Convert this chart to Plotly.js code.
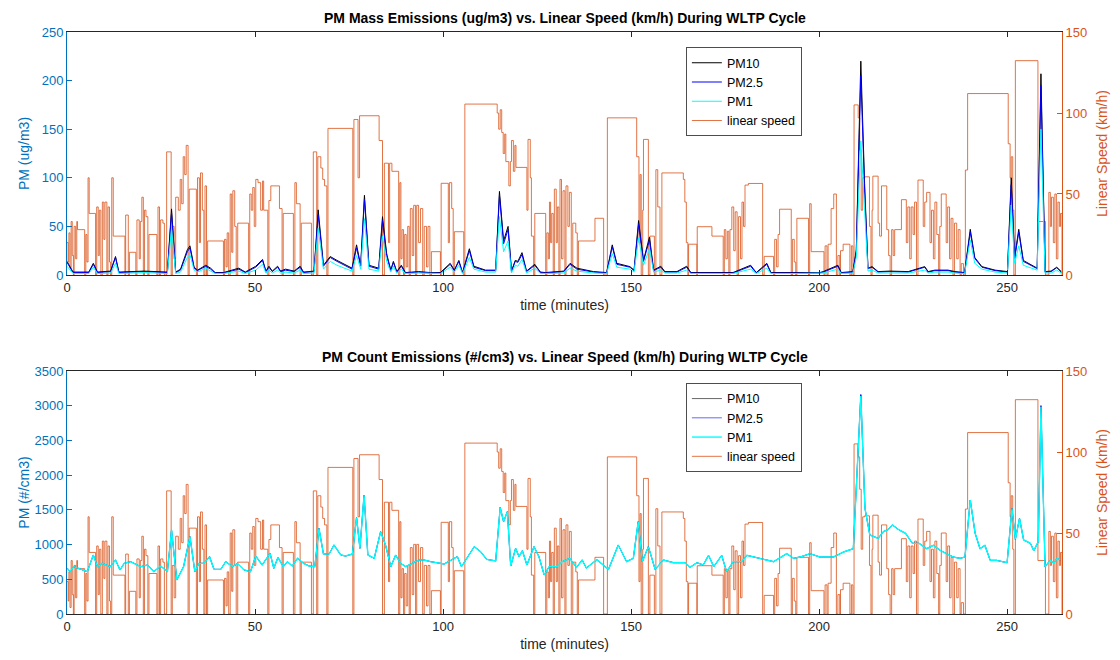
<!DOCTYPE html>
<html>
<head>
<meta charset="utf-8">
<script src="https://cdn.plot.ly/plotly-3.0.1.min.js"></script>
<style>html,body{margin:0;padding:0;background:#fff;}#chart{width:1120px;height:660px;}</style>
</head>
<body>
<div id="chart"></div>
<script>
// ---- Linear speed (km/h), step signal: time (min) and value ----
const speedTime = [0,0.3,0.5,0.8,1.1,1.4,1.7,1.9,2.3,2.6,2.8,4.7,5.0,5.3,5.6,5.9,7.6,7.9,8.3,8.6,9.0,9.4,9.8,10.1,10.6,10.9,11.3,11.6,11.9,12.3,15.4,15.6,16.3,16.6,18.3,18.6,19.2,19.5,19.9,20.3,20.6,21.0,21.5,21.8,23.9,24.2,24.6,24.9,25.5,25.9,26.5,27.7,28.0,28.5,28.9,29.6,30.1,30.5,30.9,31.3,31.7,32.2,32.5,34.4,34.7,35.2,35.5,36.0,36.4,36.7,37.1,37.4,41.6,41.9,42.3,42.6,43.0,43.4,43.8,44.1,44.6,45.0,45.4,48.3,48.6,49.0,49.4,49.8,50.2,50.8,51.5,52.0,52.3,53.4,53.7,54.2,56.5,57.2,57.5,60.2,60.6,61.0,62.0,62.3,65.0,65.5,66.4,66.7,67.5,68.0,68.5,69.1,69.4,76.0,76.3,77.4,77.8,83.0,83.9,84.4,85.5,85.8,86.4,88.2,88.5,88.8,89.1,89.5,89.8,90.2,90.6,91.0,91.3,91.8,92.2,92.7,93.0,93.5,94.0,94.6,95.0,95.6,96.0,96.5,96.9,99.3,99.5,101.4,101.7,102.3,102.7,103.0,105.5,105.8,114.4,114.8,115.2,115.6,116.0,116.4,116.7,117.5,117.9,118.2,118.7,119.1,119.4,122.3,122.6,123.2,123.5,124.1,124.4,127.3,127.6,128.0,128.3,128.6,128.9,129.3,129.6,130.1,130.4,130.8,131.1,131.5,131.9,132.4,132.7,133.2,133.6,134.1,134.5,135.3,135.7,136.0,140.4,142.7,143.7,151.5,152.1,152.4,152.7,153.1,153.3,154.6,155.0,156.2,156.6,157.1,157.7,158.2,163.9,164.3,164.7,165.1,165.3,167.5,167.6,171.5,174.5,174.8,175.2,175.6,176.0,176.3,176.8,177.3,177.7,178.2,178.6,179.1,179.5,179.9,180.3,181.2,185.0,185.4,187.9,188.2,188.7,189.1,189.5,192.6,192.9,193.4,193.8,194.1,197.2,197.5,197.9,201.3,201.6,202.1,202.4,203.2,203.9,204.6,205.0,205.5,205.7,206.4,208.2,208.6,209.0,209.3,210.4,210.8,211.2,211.6,212.1,213.4,213.8,214.1,214.3,215.7,216.1,216.6,218.0,218.5,218.9,219.3,219.7,220.1,221.9,223.2,223.6,224.1,224.5,225.0,225.4,225.9,226.3,227.7,228.1,228.6,229.5,229.9,230.4,230.8,231.3,231.8,232.1,232.5,233.8,234.2,234.7,235.1,235.6,236.0,236.6,237.0,237.5,237.8,238.4,238.9,239.5,250.3,250.8,251.1,251.5,251.8,252.2,258.2,260.2,261.1,261.5,261.8,262.3,262.7,263.1,263.5,263.9,264.2,264.6];
const speedValue = [20,8,26,4,33,12,0,30,10,33,28,0,25,8,60,38,0,42,12,40,0,45,22,45,0,42,8,0,60,24,0,37,0,14,0,34,10,33,48,0,40,36,0,25,0,42,0,34,32,0,76,0,30,10,48,40,59,44,73,62,80,0,53,0,60,20,63,40,0,55,0,21,0,22,5,26,0,50,14,52,30,0,32,0,50,40,54,30,59,57,40,58,40,0,46,55,41,0,38,0,57,44,0,32,0,76,0,73,66,59,55,0,90.5,0,96,60,98.3,83,0,69,20,69,64,0,57,10,28,0,25,5,30,0,41,12,43,0,43,20,41,0,30,5,30,0,14.4,0,56.6,20,57,41,0,26.7,0,105.5,100,90,102,88,75,87,70,55,70,83,64,80,66.4,40,83.7,60,24,0,38,0,26,10,45,20,38,0,53,20,42,0,59,10,52,0,55,30,51,0,32,26,0,21,35,0,97,73,20,62,0,40,83.7,0,24,0,65,42,0,63,59,45,20,0,19,0,29.8,24,0,28,10,27,0,28,42,15,39,0,36,10,45,30,55.5,56.5,0,11.5,0,22,5,25,40.6,0,22,8,0,35,0,44,14.4,0,18,0,19,41,50,0,12,0,15,19,0,18,0,105,97,77,40,60,60.6,30,0,40,61,32,24,55,28,12,0,28,12,28,46.5,20,42,10,42,25,45,0,58.6,30,45,51,20,40,10,45,25,0,30,50,20,42,10,35,0,32,10,28,0,7,0,64.8,112,81,60,73,40,0,132.3,33,0,51,30,48,20,50,10,45,30,38,0];

// ---- PM mass concentrations (ug/m3) ----
const massTime = [0,1.6,5.8,7.0,8.1,11.6,12.9,13.8,20.5,26.7,27.8,28.9,30.2,32.0,32.7,33.8,34.7,36.9,38.2,39.4,41.6,45.7,47.4,50.2,52.0,52.9,53.7,54.6,56.0,56.8,58.1,60.4,62.0,62.9,65.7,66.8,68.2,70.0,71.8,75.8,77.0,78.1,79.1,80.3,82.9,83.9,85.0,86.1,86.8,87.7,88.9,90.0,93.5,96.6,99.3,101.9,103.0,104.2,105.2,107.0,108.2,111.3,114.0,115.0,116.1,117.3,118.2,119.2,119.9,121.0,122.2,124.4,125.9,127.2,132.1,133.8,135.6,140.0,143.5,145.0,146.2,149.7,150.8,152.0,153.3,154.9,156.0,157.9,159.0,162.2,164.8,165.9,171.0,177.1,181.8,183.3,186.1,187.2,193.3,197.1,200.2,201.1,205.0,205.9,209.0,209.9,211.1,212.1,213.0,214.1,215.7,218.8,223.7,228.1,229.0,230.8,234.3,236.1,238.7,240.2,241.4,243.3,246.8,250.1,251.1,252.0,253.1,254.3,258.0,259.0,260.1,261.7,263.2,264.4];
const pm10Mass = [14,3,3,12,3,4,19,3,4,3,68,3,6,26,30,8,5,10,7,2.5,2.5,7,3,9,16,4,9,4,9,4,6,4,9,3,4,67,10,19,15,7,31,10,82,10,7,60,22,5,14,3.5,10,2.5,3.5,2.5,2.5,12,5,15,2.5,27,9,5,5,86,35,50,4,15,14,23,4,11,3,2.5,4,12,7,3.5,2.5,31,12,8.6,5,56,15,39,5,9,3.5,3.5,9,2.5,2.5,2.5,10,2.5,12,2.5,2.5,2.5,2.5,3.5,10,2.5,3.5,26,220,94,7,8.6,3.5,4,3.5,8.6,3.5,5,5,3.5,2.5,47,18,8.6,5,3.5,100,18,47,15,7,207,3.5,4,8,3.5];
const pm25Mass = [13,2.5,2.5,11,2.5,3.5,18,2.5,3.5,2.5,64,2.5,5,24,28,7,4.5,9,6,2,2,6,2.5,8,15,3.5,8,3.5,8,3.5,5,3.5,8,2.5,3.5,62,9,18,14,6,28,9,78,9,6,56,20,4.5,13,3,9,2,3,2,2,11,4.5,14,2,25,8,4.5,4.5,82,32,47,3.5,14,13,21,3.5,10,2.5,2,3.5,11,6,3,2,29,11,8,4.5,52,14,36,4.5,8,3,3,8,2,2,2,9,2,11,2,2,2,2,3,9,2,3,24,205,88,6.5,8,3,3.5,3,8,3,4.5,4.5,3,2,44,17,8,4.5,3,93,17,44,14,6.5,195,3,3.5,7.5,3];
const pm1Mass = [9,1.5,1.5,8,1.5,2,12,1.5,2.5,1.5,48,1.5,3,18,21,5,3,7,4,1.5,1.5,4,1.5,5,11,2,5,2,5,2,3,2,5,1.5,2,48,6,14,10,4,20,6,58,6,4,40,14,3,9,2,6,1.5,2,1.5,1.5,8,3,10,1.5,18,6,3,3,60,24,35,2,10,9,16,2,7,1.5,1.5,2,7,4,2,1.5,22,8,6,3,38,10,27,3,5,2,2,5,1.5,1.5,1.5,6,1.5,7,1.5,1.5,1.5,1.5,2,6,1.5,2,18,138,60,4,5,2,2,2,5,2,3,3,2,1.5,36,12,6,3,2,72,12,30,10,5,150,2,2,5,2];

// ---- PM number concentrations (#/cm3) ----
const countTime = [0.1,0.8,1.8,5.4,7.0,8.1,9.4,11.5,12.9,14.1,15.2,16.9,19.6,21.4,23.1,24.9,26.7,27.8,29.2,31.0,32.7,34.0,35.1,36.4,37.9,39.1,40.9,42.2,44.0,45.3,47.1,48.8,50.2,51.9,54.0,55.0,56.1,57.5,58.6,59.9,61.3,62.9,64.4,65.9,67.0,68.2,69.7,71.0,72.8,74.1,75.9,77.0,77.9,79.0,80.0,81.7,83.4,84.7,86.1,87.4,88.7,90.1,91.8,93.6,94.9,96.7,100.3,102.1,103.8,104.9,108.3,110.0,111.6,114.0,115.2,116.1,117.1,118.0,119.3,120.2,121.1,122.3,124.2,125.5,126.9,128.2,130.4,131.7,133.7,135.5,137.0,138.1,140.9,144.0,146.6,148.8,150.6,151.9,153.0,154.6,156.4,158.6,161.3,164.4,165.7,167.5,169.2,170.6,172.0,174.1,175.4,177.2,179.4,180.8,184.3,187.9,191.4,193.2,195.0,197.6,200.2,203.8,206.5,209.1,211.1,212.2,213.5,215.7,217.1,218.4,219.5,221.3,223.0,224.8,226.6,228.6,230.4,232.2,233.9,235.7,237.5,238.8,240.2,241.5,242.8,244.1,245.5,247.2,250.0,251.3,252.2,253.3,254.4,256.2,257.1,258.3,259.0,260.1,261.5,262.4,263.3,264.1];
const pm1Count = [658,610,682,610,850,682,730,682,778,634,730,754,682,706,610,691,610,1210,490,682,1114,610,730,730,826,643,643,754,682,730,634,610,835,706,874,658,816,682,754,691,802,730,691,682,1234,864,864,994,850,835,864,1392,946,1714,850,802,1186,994,682,850,730,682,730,778,778,754,720,778,826,682,970,898,787,765,1536,1330,1474,691,946,826,912,706,970,826,562,682,682,754,802,672,778,662,782,643,994,754,802,1330,754,970,643,778,739,739,672,739,706,845,682,845,610,754,754,845,802,754,869,802,821,869,821,821,893,941,3139,1522,1138,1090,1186,1219,1282,1210,1162,1018,1018,941,989,917,869,821,802,821,1642,1162,941,989,773,773,739,1522,1075,1378,1066,1018,912,1042,2986,682,778,730,802,778];
const pm25Count = [658,610,682,610,850,682,730,682,778,634,730,754,682,706,610,691,610,1210,490,682,1114,610,730,730,826,643,643,754,682,730,634,610,835,706,874,658,816,682,754,691,802,730,691,682,1234,864,864,994,850,835,864,1392,946,1714,850,802,1186,994,682,850,730,682,730,778,778,754,720,778,826,682,970,898,787,765,1536,1330,1474,691,946,826,912,706,970,826,562,682,682,754,802,672,778,662,782,643,994,754,802,1330,754,970,643,778,739,739,672,739,706,845,682,845,610,754,754,845,802,754,869,802,821,869,821,821,893,941,3165,1522,1138,1090,1186,1219,1282,1210,1162,1018,1018,941,989,917,869,821,802,821,1642,1162,941,989,773,773,739,1522,1075,1378,1066,1018,912,1042,3005,682,778,730,802,778];
const pm10Count = [658,610,682,610,850,682,730,682,778,634,730,754,682,706,610,691,610,1210,490,682,1114,610,730,730,826,643,643,754,682,730,634,610,835,706,874,658,816,682,754,691,802,730,691,682,1234,864,864,994,850,835,864,1392,946,1714,850,802,1186,994,682,850,730,682,730,778,778,754,720,778,826,682,970,898,787,765,1536,1330,1474,691,946,826,912,706,970,826,562,682,682,754,802,672,778,662,782,643,994,754,802,1330,754,970,643,778,739,739,672,739,706,845,682,845,610,754,754,845,802,754,869,802,821,869,821,821,893,941,3155,1522,1138,1090,1186,1219,1282,1210,1162,1018,1018,941,989,917,869,821,802,821,1642,1162,941,989,773,773,739,1522,1075,1378,1066,1018,912,1042,2995,682,778,730,802,778];

const seriesNames = ['PM10', 'PM2.5', 'PM1', 'linear speed'];
const titles = ['PM Mass Emissions (ug/m3) vs. Linear Speed (km/h) During WLTP Cycle',
                'PM Count Emissions (#/cm3) vs. Linear Speed (km/h) During WLTP Cycle'];

const FONT = '"Liberation Sans", Arial, Helvetica, sans-serif';
const ORANGE = '#D95319', BLUE = '#0072BD', DARK = '#262626';
const speedColor = 'rgba(217,83,25,0.8)';

const traces = [
  // top: speed on base axis (right side)
  {x: speedTime, y: speedValue, xaxis: 'x', yaxis: 'y', type: 'scatter', mode: 'lines', line: {shape: 'hv', color: speedColor, width: 1}, name: seriesNames[3], legend: 'legend', legendrank: 4},
  {x: massTime, y: pm10Mass, xaxis: 'x', yaxis: 'y2', type: 'scatter', mode: 'lines', line: {color: '#000000', width: 1}, name: seriesNames[0], legend: 'legend', legendrank: 1},
  {x: massTime, y: pm25Mass, xaxis: 'x', yaxis: 'y2', type: 'scatter', mode: 'lines', line: {color: '#0000FF', width: 1}, name: seriesNames[1], legend: 'legend', legendrank: 2},
  {x: massTime, y: pm1Mass, xaxis: 'x', yaxis: 'y2', type: 'scatter', mode: 'lines', line: {color: '#00FFFF', width: 1}, name: seriesNames[2], legend: 'legend', legendrank: 3},
  // bottom
  {x: speedTime, y: speedValue, xaxis: 'x2', yaxis: 'y3', type: 'scatter', mode: 'lines', line: {shape: 'hv', color: speedColor, width: 1}, name: seriesNames[3], legend: 'legend2', legendrank: 4},
  {x: countTime, y: pm10Count, xaxis: 'x2', yaxis: 'y4', type: 'scatter', mode: 'lines', line: {color: '#000000', width: 0.6}, name: seriesNames[0], legend: 'legend2', legendrank: 1},
  {x: countTime, y: pm25Count, xaxis: 'x2', yaxis: 'y4', type: 'scatter', mode: 'lines', line: {color: '#0000FF', width: 0.6}, name: seriesNames[1], legend: 'legend2', legendrank: 2},
  {x: countTime, y: pm1Count, xaxis: 'x2', yaxis: 'y4', type: 'scatter', mode: 'lines', line: {color: '#00FFFF', width: 1.4}, name: seriesNames[2], legend: 'legend2', legendrank: 3}
];

function xAx(anchor) {
  return {anchor: anchor, domain: [0, 1], range: [0, 264.6], tickvals: [0, 50, 100, 150, 200, 250],
    ticks: 'inside', ticklen: 5, tickcolor: DARK, showline: true, linecolor: DARK, linewidth: 1, mirror: 'ticks',
    showgrid: false, zeroline: false, tickfont: {family: FONT, size: 13, color: DARK},
    title: {text: 'time (minutes)', font: {family: FONT, size: 14, color: DARK}, standoff: 6}};
}
function yAx(opts) {
  return Object.assign({ticks: 'inside', ticklen: 5, showline: true, linewidth: 1, showgrid: false, zeroline: false}, opts);
}
const legendStyle = {x: 0.622, xanchor: 'left', yanchor: 'top', bgcolor: '#ffffff', bordercolor: '#4d4d4d', borderwidth: 1,
  font: {family: FONT, size: 12.5, color: '#000'}, traceorder: 'normal', tracegroupgap: 0};

const layout = {
  width: 1120, height: 660,
  margin: {l: 67, r: 58, t: 32, b: 46, pad: 0},
  paper_bgcolor: '#ffffff', plot_bgcolor: '#ffffff',
  font: {family: FONT},
  showlegend: true,
  xaxis: xAx('y'),
  xaxis2: xAx('y3'),
  yaxis: yAx({domain: [0.5825, 1], anchor: 'x', side: 'right', range: [0, 150], tickvals: [0, 50, 100, 150],
    color: ORANGE, linecolor: ORANGE, tickcolor: ORANGE, tickfont: {family: FONT, size: 13, color: ORANGE},
    title: {text: 'Linear Speed (km/h)', font: {family: FONT, size: 14, color: ORANGE}}}),
  yaxis2: yAx({overlaying: 'y', anchor: 'x', side: 'left', range: [0, 250], tickvals: [0, 50, 100, 150, 200, 250],
    color: BLUE, linecolor: BLUE, tickcolor: BLUE, tickfont: {family: FONT, size: 13, color: BLUE},
    title: {text: 'PM (ug/m3)', font: {family: FONT, size: 14, color: BLUE}}}),
  yaxis3: yAx({domain: [0, 0.4175], anchor: 'x2', side: 'right', range: [0, 150], tickvals: [0, 50, 100, 150],
    color: ORANGE, linecolor: ORANGE, tickcolor: ORANGE, tickfont: {family: FONT, size: 13, color: ORANGE},
    title: {text: 'Linear Speed (km/h)', font: {family: FONT, size: 14, color: ORANGE}}}),
  yaxis4: yAx({overlaying: 'y3', anchor: 'x2', side: 'left', range: [0, 3500], tickvals: [0, 500, 1000, 1500, 2000, 2500, 3000, 3500],
    color: BLUE, linecolor: BLUE, tickcolor: BLUE, tickfont: {family: FONT, size: 13, color: BLUE},
    title: {text: 'PM (#/cm3)', font: {family: FONT, size: 14, color: BLUE}}}),
  legend: Object.assign({y: 0.974}, legendStyle),
  legend2: Object.assign({y: 0.397}, legendStyle),
  annotations: [
    {text: '<b>' + titles[0] + '</b>', xref: 'paper', yref: 'paper', x: 0.5, y: 1.024, xanchor: 'center', yanchor: 'middle', showarrow: false, font: {family: FONT, size: 14, color: '#000'}},
    {text: '<b>' + titles[1] + '</b>', xref: 'paper', yref: 'paper', x: 0.5, y: 0.4416, xanchor: 'center', yanchor: 'middle', showarrow: false, font: {family: FONT, size: 14, color: '#000'}}
  ]
};

Plotly.newPlot('chart', traces, layout, {staticPlot: true, displayModeBar: false});
</script>
</body>
</html>
